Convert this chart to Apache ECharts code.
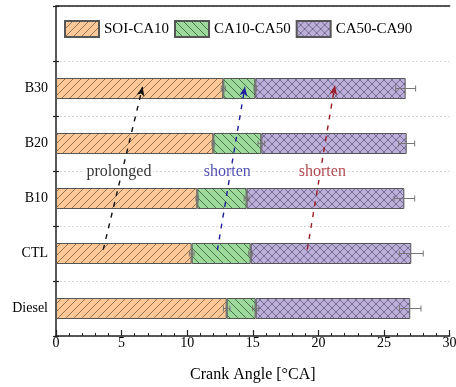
<!DOCTYPE html>
<html>
<head>
<meta charset="utf-8">
<script src="https://cdn.jsdelivr.net/npm/echarts@6/dist/echarts.min.js"></script>
<style>
  html, body { margin: 0; padding: 0; background: #fff; }
  #chart { width: 456px; height: 387px; }
</style>
</head>
<body>
<div id="chart"></div>
<script>
// Combustion phase durations (°CA) per fuel; the last category is left empty for the legend band
const categories = ['Diesel', 'CTL', 'B10', 'B20', 'B30', ''];
const soiCa10   = [13.01, 10.34, 10.77, 11.99, 12.75];
const ca10Ca50  = [2.21, 4.50, 3.76, 3.66, 2.44];
const ca50Ca90  = [11.78, 12.24, 12.02, 11.08, 11.46];
// Error half-widths at the end of each phase
const errSoiCa10  = [0.25, 0.18, 0.10, 0.10, 0.15];
const errCa10Ca50 = [0.23, 0.15, 0.19, 0.25, 0.10];
const errCa50Ca90 = [0.82, 0.91, 0.79, 0.61, 0.76];
const seriesNames = ['SOI-CA10', 'CA10-CA50', 'CA50-CA90'];
const xTicks = { min: 0, max: 30, interval: 5 };

// Trend annotations: [x0, y0, x1, y1] in (°CA, category index) space, plus label positions
const arrows = [
  { from: [3.6, 1.57], to: [6.6, 4.53], color: '#111111' },
  { from: [12.3, 1.56], to: [14.4, 4.53], color: '#1f1f9c' },
  { from: [19.15, 1.57], to: [21.25, 4.55], color: '#9c1c25' }
];
const notes = [
  { text: 'prolonged', at: [4.8, 2.98], color: '#000000' },
  { text: 'shorten', at: [13.05, 2.98], color: '#1f1f9c' },
  { text: 'shorten', at: [20.3, 2.98], color: '#9c1c25' }
];

// Hatch fills
function hatch(bg, fg, kind) {
  const s = 8;
  const c = document.createElement('canvas');
  c.width = s; c.height = s;
  const g = c.getContext('2d');
  g.fillStyle = bg; g.fillRect(0, 0, s, s);
  g.strokeStyle = fg; g.lineWidth = 0.9;
  const fwd = () => {
    g.beginPath();
    g.moveTo(-1, s + 1); g.lineTo(s + 1, -1);
    g.moveTo(-1, 1); g.lineTo(1, -1);
    g.moveTo(s - 1, s + 1); g.lineTo(s + 1, s - 1);
    g.stroke();
  };
  const back = () => {
    g.beginPath();
    g.moveTo(-1, -1); g.lineTo(s + 1, s + 1);
    g.moveTo(s - 1, -1); g.lineTo(s + 1, 1);
    g.moveTo(-1, s - 1); g.lineTo(1, s + 1);
    g.stroke();
  };
  if (kind === 'fwd') fwd();
  else if (kind === 'back') back();
  else { fwd(); back(); }
  return { image: c, repeat: 'repeat' };
}
const fills = [
  hatch('#fdc897', '#8a6a4c', 'fwd'),
  hatch('#9dd99b', '#3f6b3f', 'back'),
  hatch('#bcb0db', '#6e6488', 'cross')
];

const segments = [soiCa10, ca10Ca50, ca50Ca90];
const errs = [errSoiCa10, errCa10Ca50, errCa50Ca90];

// Cumulative phase ends for the error bars
const errData = [];
for (let i = 0; i < soiCa10.length; i++) {
  let acc = 0;
  for (let k = 0; k < 3; k++) {
    acc += segments[k][i];
    errData.push([acc, i, errs[k][i]]);
  }
}

const serif = '"Liberation Serif", "Times New Roman", serif';

const barSeries = seriesNames.map((name, k) => ({
  name,
  type: 'bar',
  stack: 'phase',
  barWidth: 21,
  data: segments[k],
  itemStyle: { color: fills[k], borderColor: '#555555', borderWidth: 1 },
  emphasis: { disabled: true },
  z: 2
}));

const chart = echarts.init(document.getElementById('chart'), null, { renderer: 'canvas' });
chart.setOption({
  animation: false,
  backgroundColor: '#ffffff',
  textStyle: { fontFamily: serif },
  grid: { left: 56, right: 6.4, top: 6, bottom: 51, containLabel: false, outerBoundsMode: 'none' },
  legend: {
    data: seriesNames,
    left: 59, top: 15,
    itemWidth: 34, itemHeight: 16, itemGap: 5,
    icon: 'rect',
    textStyle: { fontFamily: serif, fontSize: 15, color: '#000' }
  },
  xAxis: [{
    type: 'value',
    min: xTicks.min, max: xTicks.max, interval: xTicks.interval,
    name: 'Crank Angle [°CA]',
    nameLocation: 'middle', nameGap: 31,
    nameTextStyle: { fontFamily: serif, fontSize: 16, color: '#000' },
    axisLine: { show: true, lineStyle: { color: '#222', width: 1.5 } },
    axisTick: { show: true, inside: true, length: 6, lineStyle: { color: '#222', width: 1.2 } },
    minorTick: { show: true, splitNumber: 5, length: 3, lineStyle: { color: '#222', width: 1 } },
    axisLabel: { fontFamily: serif, fontSize: 14, color: '#000', margin: 0 },
    splitLine: { show: false }
  }, {
    type: 'value', position: 'top',
    min: xTicks.min, max: xTicks.max,
    axisLine: { show: true, lineStyle: { color: '#222', width: 1.5 } },
    axisTick: { show: false }, axisLabel: { show: false }, splitLine: { show: false }
  }],
  yAxis: [{
    type: 'category', data: categories,
    axisLine: { show: true, lineStyle: { color: '#222', width: 1.5 } },
    axisTick: { show: true, length: 3, lineStyle: { color: '#222', width: 1.2 } },
    axisLabel: { fontFamily: serif, fontSize: 14, color: '#000', margin: 8 },
    splitLine: { show: true, lineStyle: { color: '#d8d8d8', type: [2, 2], width: 1 } }
  }, {
    type: 'category', data: categories, position: 'left',
    axisLine: { show: false },
    axisTick: { show: true, inside: true, length: 3, lineStyle: { color: '#222', width: 1.2 } },
    axisLabel: { show: false }, splitLine: { show: false }
  }, {
    type: 'value', min: 0, max: categories.length, show: false
  }],
  series: [
    ...barSeries,
    {
      type: 'custom',
      name: 'err',
      data: errData,
      z: 5,
      silent: true,
      encode: { x: 0, y: 1 },
      renderItem(params, api) {
        const end = api.value(0), cat = api.value(1), e = api.value(2);
        const a = api.coord([end - e, cat]);
        const b = api.coord([end + e, cat]);
        const h = 3;
        const st = { stroke: '#777777', lineWidth: 1, fill: null };
        return {
          type: 'group',
          children: [
            { type: 'line', shape: { x1: a[0], y1: a[1], x2: b[0], y2: b[1] }, style: st },
            { type: 'line', shape: { x1: a[0], y1: a[1] - h, x2: a[0], y2: a[1] + h }, style: st },
            { type: 'line', shape: { x1: b[0], y1: b[1] - h, x2: b[0], y2: b[1] + h }, style: st }
          ]
        };
      }
    },
    {
      type: 'scatter',
      name: 'notes',
      yAxisIndex: 2,
      symbolSize: 0,
      silent: true,
      z: 7,
      data: notes.map(n => ({
        value: n.at,
        label: {
          show: true, position: 'inside', formatter: n.text,
          fontFamily: serif, fontSize: 16, color: n.color,
          backgroundColor: '#ffffff', padding: [0, 2]
        }
      })),
      markLine: {
        silent: true,
        symbol: ['none', 'arrow'],
        symbolSize: [6, 9],
        label: { show: false },
        z: 6,
        data: arrows.map(a => [
          { coord: a.from, lineStyle: { color: a.color, type: [5, 6], width: 1.4 } },
          { coord: a.to }
        ])
      }
    }
  ]
});
</script>
</body>
</html>
